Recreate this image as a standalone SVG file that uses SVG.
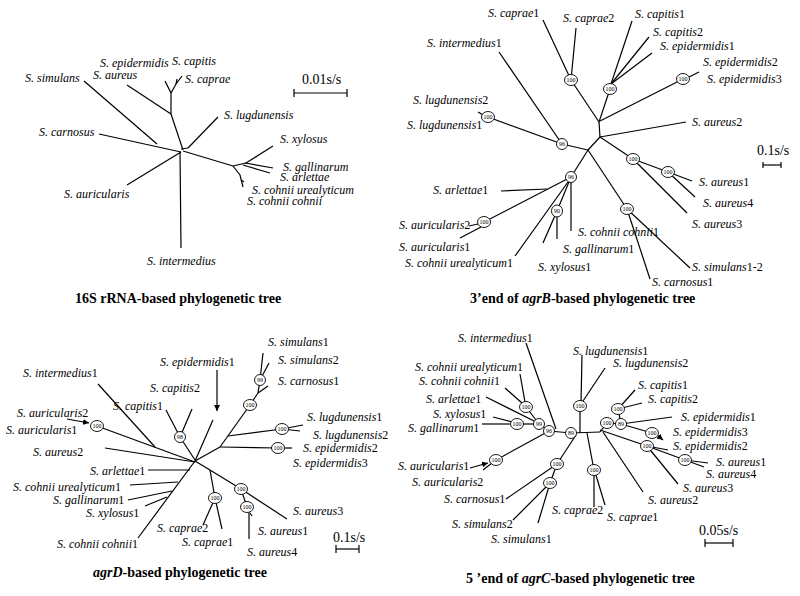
<svg xmlns="http://www.w3.org/2000/svg" width="800" height="596" viewBox="0 0 800 596">
<style>
.bg{fill:#fff}
.c line,.c polyline{stroke:#000;stroke-width:1.2;fill:none}
.l{font-family:"Liberation Serif",serif;font-style:italic;font-size:12px;fill:#000}
.u{font-style:normal}
.nd ellipse{fill:#fff;stroke:#000;stroke-width:0.9}
.nd text{font-family:"Liberation Serif",serif;font-size:6px;text-anchor:middle;fill:#000}
.t{font-family:"Liberation Serif",serif;font-weight:bold;font-size:14px;fill:#000}
.s{font-family:"Liberation Serif",serif;font-size:14px;fill:#000}
</style>
<defs>
<marker id="ah" viewBox="0 0 6 6" refX="6" refY="3" markerWidth="5" markerHeight="5" orient="auto"><path d="M0,0 L6,3 L0,6 z" fill="#000"/></marker>
</defs>
<rect class="bg" width="800" height="596"/>

<!-- Tree 1: 16S rRNA -->
<g id="tree16S">
<g class="c" id="conn16S">
<line x1="84" y1="81" x2="157" y2="144"/>
<line x1="99" y1="134" x2="181" y2="152"/>
<line x1="127" y1="185" x2="181" y2="152"/>
<line x1="180" y1="152" x2="181" y2="248"/>
<line x1="183" y1="150" x2="171" y2="114"/>
<line x1="127" y1="85" x2="171" y2="114"/>
<line x1="171" y1="114" x2="171" y2="93"/>
<line x1="171" y1="93" x2="165" y2="81"/>
<polyline points="171,93 176,84 182,76"/>
<line x1="176" y1="84" x2="177" y2="79"/>
<line x1="181" y1="149" x2="188" y2="148"/>
<line x1="188" y1="148" x2="218" y2="117"/>
<line x1="183" y1="151" x2="233" y2="166"/>
<polyline points="233,166 246,163 273,146"/>
<line x1="245" y1="163" x2="273" y2="168"/>
<line x1="243" y1="165" x2="270" y2="173"/>
<polyline points="233,166 240,175 243,187"/>
<line x1="241" y1="180" x2="244" y2="182"/>
<line x1="294" y1="93" x2="347" y2="93"/>
<line x1="294" y1="89" x2="294" y2="97"/>
<line x1="347" y1="89" x2="347" y2="97"/>
</g>
<text class="l" x="25" y="82">S. simulans</text>
<text class="l" x="100" y="67">S. epidermidis</text>
<text class="l" x="172" y="65">S. capitis</text>
<text class="l" x="93" y="79">S. aureus</text>
<text class="l" x="185" y="83">S. caprae</text>
<text class="l" x="39" y="136">S. carnosus</text>
<text class="l" x="64" y="198">S. auricularis</text>
<text class="l" x="147" y="265">S. intermedius</text>
<text class="l" x="224" y="119">S. lugdunensis</text>
<text class="l" x="280" y="143">S. xylosus</text>
<text class="l" x="283" y="171">S. gallinarum</text>
<text class="l" x="280" y="181">S. arlettae</text>
<text class="l" x="252" y="194">S. cohnii urealyticum</text>
<text class="l" x="247" y="205">S. cohnii cohnii</text>
<text class="s" x="302" y="84">0.01s/s</text>
<text class="t" x="75" y="303">16S rRNA-based phylogenetic tree</text>
</g>

<!-- Tree 2: agrB -->
<g id="treeAgrB">
<g class="c" id="connAgrB">
<line x1="543" y1="20" x2="571" y2="80"/>
<line x1="576" y1="28" x2="571" y2="80"/>
<line x1="571" y1="80" x2="599" y2="122"/>
<line x1="632" y1="21" x2="611" y2="84"/>
<line x1="649" y1="37" x2="611" y2="84"/>
<line x1="652" y1="53" x2="611" y2="84"/>
<line x1="610" y1="89" x2="599" y2="122"/>
<line x1="683" y1="79" x2="600" y2="121"/>
<line x1="699" y1="72" x2="689" y2="77"/>
<line x1="599" y1="122" x2="600" y2="137"/>
<line x1="600" y1="137" x2="686" y2="122"/>
<line x1="600" y1="137" x2="633" y2="159"/>
<line x1="633" y1="159" x2="668" y2="172"/>
<line x1="668" y1="172" x2="692" y2="181"/>
<line x1="668" y1="172" x2="695" y2="197"/>
<line x1="633" y1="159" x2="687" y2="213"/>
<line x1="488" y1="117" x2="562" y2="144"/>
<line x1="478" y1="112" x2="485" y2="116"/>
<line x1="499" y1="52" x2="562" y2="144"/>
<line x1="562" y1="144" x2="588" y2="150"/>
<line x1="588" y1="150" x2="600" y2="137"/>
<line x1="588" y1="150" x2="571" y2="177"/>
<line x1="588" y1="150" x2="627" y2="209"/>
<line x1="627" y1="209" x2="690" y2="268"/>
<line x1="627" y1="209" x2="650" y2="279"/>
<line x1="571" y1="177" x2="484" y2="222"/>
<line x1="501" y1="191" x2="547" y2="189"/>
<line x1="460" y1="238" x2="481" y2="227"/>
<line x1="469" y1="226" x2="478" y2="224"/>
<line x1="515" y1="256" x2="568" y2="182"/>
<line x1="571" y1="177" x2="557" y2="211"/>
<line x1="557" y1="211" x2="543" y2="243"/>
<line x1="557" y1="211" x2="557" y2="239"/>
<line x1="571" y1="177" x2="571" y2="231"/>
<line x1="763" y1="165" x2="781" y2="165"/>
<line x1="763" y1="162" x2="763" y2="168"/>
<line x1="781" y1="162" x2="781" y2="168"/>
</g>
<g class="nd" id="b-n1"><ellipse cx="571" cy="80" rx="6.5" ry="5.5"/><text x="571" y="82">100</text></g>
<g class="nd" id="b-n2"><ellipse cx="610" cy="89" rx="6.5" ry="5.5"/><text x="610" y="91">100</text></g>
<g class="nd" id="b-n3"><ellipse cx="683" cy="79" rx="6.5" ry="5.5"/><text x="683" y="81">100</text></g>
<g class="nd" id="b-n4"><ellipse cx="488" cy="117" rx="6.5" ry="5.5"/><text x="488" y="119">100</text></g>
<g class="nd" id="b-n5"><ellipse cx="562" cy="144" rx="5.5" ry="5.5"/><text x="562" y="146">96</text></g>
<g class="nd" id="b-n6"><ellipse cx="571" cy="177" rx="5.5" ry="5.5"/><text x="571" y="179">96</text></g>
<g class="nd" id="b-n7"><ellipse cx="633" cy="159" rx="6.5" ry="5.5"/><text x="633" y="161">100</text></g>
<g class="nd" id="b-n8"><ellipse cx="668" cy="172" rx="6.5" ry="5.5"/><text x="668" y="174">100</text></g>
<g class="nd" id="b-n9"><ellipse cx="627" cy="209" rx="6.5" ry="5.5"/><text x="627" y="211">100</text></g>
<g class="nd" id="b-n10"><ellipse cx="484" cy="222" rx="6.5" ry="5.5"/><text x="484" y="224">100</text></g>
<g class="nd" id="b-n11"><ellipse cx="557" cy="211" rx="5.5" ry="6"/><text x="557" y="213">90</text></g>
<text class="l" x="488" y="17">S. caprae<tspan class="u">1</tspan></text>
<text class="l" x="563" y="22">S. caprae<tspan class="u">2</tspan></text>
<text class="l" x="427" y="47">S. intermedius<tspan class="u">1</tspan></text>
<text class="l" x="413" y="104">S. lugdunensis<tspan class="u">2</tspan></text>
<text class="l" x="407" y="129">S. lugdunensis<tspan class="u">1</tspan></text>
<text class="l" x="635" y="18">S. capitis<tspan class="u">1</tspan></text>
<text class="l" x="653" y="36">S. capitis<tspan class="u">2</tspan></text>
<text class="l" x="660" y="50">S. epidermidis<tspan class="u">1</tspan></text>
<text class="l" x="703" y="66">S. epidermidis<tspan class="u">2</tspan></text>
<text class="l" x="707" y="83">S. epidermidis<tspan class="u">3</tspan></text>
<text class="l" x="692" y="126">S. aureus<tspan class="u">2</tspan></text>
<text class="l" x="699" y="186">S. aureus<tspan class="u">1</tspan></text>
<text class="l" x="703" y="207">S. aureus<tspan class="u">4</tspan></text>
<text class="l" x="692" y="228">S. aureus<tspan class="u">3</tspan></text>
<text class="l" x="433" y="194">S. arlettae<tspan class="u">1</tspan></text>
<text class="l" x="399" y="229">S. auricularis<tspan class="u">2</tspan></text>
<text class="l" x="399" y="251">S. auricularis<tspan class="u">1</tspan></text>
<text class="l" x="405" y="267">S. cohnii urealyticum<tspan class="u">1</tspan></text>
<text class="l" x="578" y="236">S. cohnii cohnii<tspan class="u">1</tspan></text>
<text class="l" x="563" y="253">S. gallinarum<tspan class="u">1</tspan></text>
<text class="l" x="538" y="271">S. xylosus<tspan class="u">1</tspan></text>
<text class="l" x="692" y="271">S. simulans<tspan class="u">1-2</tspan></text>
<text class="l" x="652" y="286">S. carnosus<tspan class="u">1</tspan></text>
<text class="s" x="757" y="155">0.1s/s</text>
<text class="t" x="470" y="303">3’end of <tspan font-style="italic">agrB</tspan>-based phylogenetic tree</text>
</g>

<!-- Tree 3: agrD -->
<g id="treeAgrD">
<g class="c" id="connAgrD">
<line x1="98" y1="384" x2="155" y2="447"/>
<line x1="67" y1="419" x2="89" y2="423" marker-end="url(#ah)"/>
<line x1="97" y1="426" x2="195" y2="462"/>
<line x1="105" y1="448" x2="195" y2="462"/>
<line x1="148" y1="470" x2="190" y2="470"/>
<line x1="130" y1="485" x2="178" y2="482"/>
<line x1="128" y1="500" x2="172" y2="491"/>
<line x1="145" y1="506" x2="167" y2="497"/>
<line x1="138" y1="538" x2="195" y2="461"/>
<line x1="166" y1="410" x2="180" y2="437"/>
<line x1="192" y1="409" x2="180" y2="437"/>
<line x1="180" y1="437" x2="195" y2="460"/>
<line x1="195" y1="461" x2="213" y2="420"/>
<line x1="217" y1="370" x2="217" y2="411" marker-end="url(#ah)"/>
<line x1="195" y1="461" x2="220" y2="447"/>
<line x1="220" y1="447" x2="250" y2="405"/>
<line x1="250" y1="405" x2="258" y2="393"/>
<line x1="258" y1="393" x2="260" y2="380"/>
<line x1="258" y1="393" x2="268" y2="386"/>
<line x1="260" y1="380" x2="263" y2="353"/>
<line x1="260" y1="380" x2="269" y2="363"/>
<line x1="228" y1="436" x2="282" y2="429"/>
<line x1="282" y1="429" x2="303" y2="425"/>
<line x1="282" y1="429" x2="300" y2="431"/>
<line x1="220" y1="447" x2="278" y2="448"/>
<line x1="292" y1="448" x2="284" y2="448"/>
<line x1="195" y1="461" x2="210" y2="470"/>
<line x1="210" y1="470" x2="215" y2="498"/>
<line x1="215" y1="498" x2="203" y2="525"/>
<line x1="215" y1="498" x2="222" y2="529"/>
<line x1="210" y1="470" x2="241" y2="489"/>
<line x1="241" y1="489" x2="287" y2="519"/>
<line x1="241" y1="489" x2="247" y2="507"/>
<line x1="249" y1="512" x2="249" y2="539"/>
<line x1="250" y1="513" x2="252" y2="516"/>
<line x1="336" y1="549" x2="359" y2="549"/>
<line x1="336" y1="545" x2="336" y2="553"/>
<line x1="359" y1="545" x2="359" y2="553"/>
</g>
<g class="nd" id="d-n1"><ellipse cx="97" cy="426" rx="6.5" ry="5.5"/><text x="97" y="428">100</text></g>
<g class="nd" id="d-n2"><ellipse cx="180" cy="437" rx="5.5" ry="5.5"/><text x="180" y="439">98</text></g>
<g class="nd" id="d-n3"><ellipse cx="260" cy="380" rx="5.5" ry="5.5"/><text x="260" y="382">99</text></g>
<g class="nd" id="d-n4"><ellipse cx="250" cy="405" rx="6.5" ry="5.5"/><text x="250" y="407">100</text></g>
<g class="nd" id="d-n5"><ellipse cx="282" cy="429" rx="6.5" ry="5.5"/><text x="282" y="431">100</text></g>
<g class="nd" id="d-n6"><ellipse cx="278" cy="448" rx="6.5" ry="5.5"/><text x="278" y="450">100</text></g>
<g class="nd" id="d-n7"><ellipse cx="215" cy="498" rx="6.5" ry="5.5"/><text x="215" y="500">100</text></g>
<g class="nd" id="d-n8"><ellipse cx="241" cy="489" rx="6.5" ry="5.5"/><text x="241" y="491">100</text></g>
<g class="nd" id="d-n9"><ellipse cx="247" cy="507" rx="6.5" ry="5.5"/><text x="247" y="509">100</text></g>
<text class="l" x="23" y="377">S. intermedius<tspan class="u">1</tspan></text>
<text class="l" x="160" y="366">S. epidermidis<tspan class="u">1</tspan></text>
<text class="l" x="150" y="392">S. capitis<tspan class="u">2</tspan></text>
<text class="l" x="113" y="410">S. capitis<tspan class="u">1</tspan></text>
<text class="l" x="17" y="417">S. auricularis<tspan class="u">2</tspan></text>
<text class="l" x="6" y="434">S. auricularis<tspan class="u">1</tspan></text>
<text class="l" x="33" y="456">S. aureus<tspan class="u">2</tspan></text>
<text class="l" x="90" y="475">S. arlettae<tspan class="u">1</tspan></text>
<text class="l" x="13" y="491">S. cohnii urealyticum<tspan class="u">1</tspan></text>
<text class="l" x="53" y="504">S. gallinarum<tspan class="u">1</tspan></text>
<text class="l" x="86" y="517">S. xylosus<tspan class="u">1</tspan></text>
<text class="l" x="57" y="548">S. cohnii cohnii<tspan class="u">1</tspan></text>
<text class="l" x="157" y="532">S. caprae<tspan class="u">2</tspan></text>
<text class="l" x="182" y="546">S. caprae<tspan class="u">1</tspan></text>
<text class="l" x="268" y="346">S. simulans<tspan class="u">1</tspan></text>
<text class="l" x="278" y="364">S. simulans<tspan class="u">2</tspan></text>
<text class="l" x="278" y="385">S. carnosus<tspan class="u">1</tspan></text>
<text class="l" x="307" y="421">S. lugdunensis<tspan class="u">1</tspan></text>
<text class="l" x="313" y="439">S. lugdunensis<tspan class="u">2</tspan></text>
<text class="l" x="303" y="452">S. epidermidis<tspan class="u">2</tspan></text>
<text class="l" x="293" y="467">S. epidermidis<tspan class="u">3</tspan></text>
<text class="l" x="293" y="515">S. aureus<tspan class="u">3</tspan></text>
<text class="l" x="258" y="535">S. aureus<tspan class="u">1</tspan></text>
<text class="l" x="247" y="556">S. aureus<tspan class="u">4</tspan></text>
<text class="s" x="333" y="542">0.1s/s</text>
<text class="t" x="93" y="577"><tspan font-style="italic">agrD</tspan>-based phylogenetic tree</text>
</g>

<!-- Tree 4: agrC -->
<g id="treeAgrC">
<g class="c" id="connAgrC">
<line x1="526" y1="343" x2="556" y2="429"/>
<line x1="520" y1="374" x2="525" y2="402"/>
<line x1="505" y1="388" x2="522" y2="403"/>
<line x1="526" y1="407" x2="539" y2="424"/>
<line x1="486" y1="397" x2="536" y2="422"/>
<line x1="493" y1="417" x2="512" y2="422"/>
<line x1="482" y1="424" x2="510" y2="424"/>
<line x1="517" y1="424" x2="539" y2="424"/>
<line x1="539" y1="424" x2="549" y2="431"/>
<line x1="549" y1="431" x2="571" y2="433"/>
<line x1="549" y1="431" x2="496" y2="460"/>
<line x1="470" y1="468" x2="488" y2="463" marker-end="url(#ah)"/>
<line x1="483" y1="470" x2="492" y2="463"/>
<line x1="571" y1="433" x2="600" y2="432"/>
<line x1="580" y1="433" x2="580" y2="406"/>
<line x1="581" y1="403" x2="582" y2="355"/>
<line x1="583" y1="401" x2="605" y2="368"/>
<line x1="587" y1="433" x2="594" y2="470"/>
<line x1="594" y1="470" x2="594" y2="507"/>
<line x1="595" y1="472" x2="605" y2="505"/>
<line x1="576" y1="435" x2="557" y2="464"/>
<line x1="557" y1="464" x2="506" y2="499"/>
<line x1="557" y1="464" x2="550" y2="483"/>
<line x1="550" y1="483" x2="513" y2="520"/>
<line x1="550" y1="483" x2="538" y2="523"/>
<line x1="600" y1="432" x2="607" y2="423"/>
<line x1="607" y1="423" x2="621" y2="424"/>
<line x1="621" y1="424" x2="618" y2="409"/>
<line x1="618" y1="409" x2="635" y2="390"/>
<line x1="618" y1="409" x2="642" y2="403"/>
<line x1="621" y1="424" x2="672" y2="417"/>
<line x1="621" y1="424" x2="652" y2="433"/>
<line x1="657" y1="435" x2="663" y2="440" marker-end="url(#ah)"/>
<line x1="600" y1="430" x2="647" y2="446"/>
<line x1="647" y1="446" x2="668" y2="450"/>
<line x1="647" y1="446" x2="685" y2="460"/>
<line x1="685" y1="460" x2="708" y2="463"/>
<line x1="685" y1="460" x2="704" y2="467"/>
<line x1="647" y1="446" x2="678" y2="484"/>
<line x1="603" y1="432" x2="643" y2="492"/>
<line x1="705" y1="543" x2="733" y2="543"/>
<line x1="705" y1="539" x2="705" y2="547"/>
<line x1="733" y1="539" x2="733" y2="547"/>
</g>
<g class="nd" id="c-n1"><ellipse cx="526" cy="407" rx="6.5" ry="5.5"/><text x="526" y="409">100</text></g>
<g class="nd" id="c-n2"><ellipse cx="539" cy="424" rx="5.5" ry="5.5"/><text x="539" y="426">99</text></g>
<g class="nd" id="c-n3"><ellipse cx="517" cy="424" rx="6.5" ry="5.5"/><text x="517" y="426">100</text></g>
<g class="nd" id="c-n4"><ellipse cx="549" cy="431" rx="5.5" ry="5.5"/><text x="549" y="433">96</text></g>
<g class="nd" id="c-n5"><ellipse cx="571" cy="433" rx="5.5" ry="5.5"/><text x="571" y="435">89</text></g>
<g class="nd" id="c-n6"><ellipse cx="580" cy="406" rx="6.5" ry="5.5"/><text x="580" y="408">100</text></g>
<g class="nd" id="c-n7"><ellipse cx="496" cy="460" rx="6.5" ry="5.5"/><text x="496" y="462">100</text></g>
<g class="nd" id="c-n8"><ellipse cx="557" cy="464" rx="6.5" ry="5.5"/><text x="557" y="466">100</text></g>
<g class="nd" id="c-n9"><ellipse cx="550" cy="483" rx="6.5" ry="5.5"/><text x="550" y="485">100</text></g>
<g class="nd" id="c-n10"><ellipse cx="594" cy="470" rx="6.5" ry="5.5"/><text x="594" y="472">100</text></g>
<g class="nd" id="c-n11"><ellipse cx="618" cy="409" rx="6.5" ry="5.5"/><text x="618" y="411">100</text></g>
<g class="nd" id="c-n12"><ellipse cx="607" cy="423" rx="6.5" ry="5.5"/><text x="607" y="425">100</text></g>
<g class="nd" id="c-n13"><ellipse cx="621" cy="424" rx="5.5" ry="5.5"/><text x="621" y="426">89</text></g>
<g class="nd" id="c-n14"><ellipse cx="652" cy="433" rx="6.5" ry="5.5"/><text x="652" y="435">100</text></g>
<g class="nd" id="c-n15"><ellipse cx="647" cy="446" rx="6.5" ry="5.5"/><text x="647" y="448">100</text></g>
<g class="nd" id="c-n16"><ellipse cx="685" cy="460" rx="6.5" ry="5.5"/><text x="685" y="462">100</text></g>
<text class="l" x="458" y="342">S. intermedius<tspan class="u">1</tspan></text>
<text class="l" x="415" y="371">S. cohnii urealyticum<tspan class="u">1</tspan></text>
<text class="l" x="419" y="385">S. cohnii cohnii<tspan class="u">1</tspan></text>
<text class="l" x="426" y="403">S. arlettae<tspan class="u">1</tspan></text>
<text class="l" x="433" y="418">S. xylosus<tspan class="u">1</tspan></text>
<text class="l" x="408" y="432">S. gallinarum<tspan class="u">1</tspan></text>
<text class="l" x="398" y="470">S. auricularis<tspan class="u">1</tspan></text>
<text class="l" x="412" y="486">S. auricularis<tspan class="u">2</tspan></text>
<text class="l" x="444" y="503">S. carnosus<tspan class="u">1</tspan></text>
<text class="l" x="452" y="528">S. simulans<tspan class="u">2</tspan></text>
<text class="l" x="491" y="543">S. simulans<tspan class="u">1</tspan></text>
<text class="l" x="573" y="355">S. lugdunensis<tspan class="u">1</tspan></text>
<text class="l" x="613" y="367">S. lugdunensis<tspan class="u">2</tspan></text>
<text class="l" x="638" y="389">S. capitis<tspan class="u">1</tspan></text>
<text class="l" x="648" y="403">S. capitis<tspan class="u">2</tspan></text>
<text class="l" x="681" y="421">S. epidermidis<tspan class="u">1</tspan></text>
<text class="l" x="673" y="436">S. epidermidis<tspan class="u">3</tspan></text>
<text class="l" x="673" y="450">S. epidermidis<tspan class="u">2</tspan></text>
<text class="l" x="716" y="466">S. aureus<tspan class="u">1</tspan></text>
<text class="l" x="706" y="478">S. aureus<tspan class="u">4</tspan></text>
<text class="l" x="683" y="492">S. aureus<tspan class="u">3</tspan></text>
<text class="l" x="648" y="504">S. aureus<tspan class="u">2</tspan></text>
<text class="l" x="552" y="514">S. caprae<tspan class="u">2</tspan></text>
<text class="l" x="607" y="521">S. caprae<tspan class="u">1</tspan></text>
<text class="s" x="699" y="535">0.05s/s</text>
<text class="t" x="466" y="583">5 ’end of <tspan font-style="italic">agrC</tspan>-based phylogenetic tree</text>
</g>
</svg>
